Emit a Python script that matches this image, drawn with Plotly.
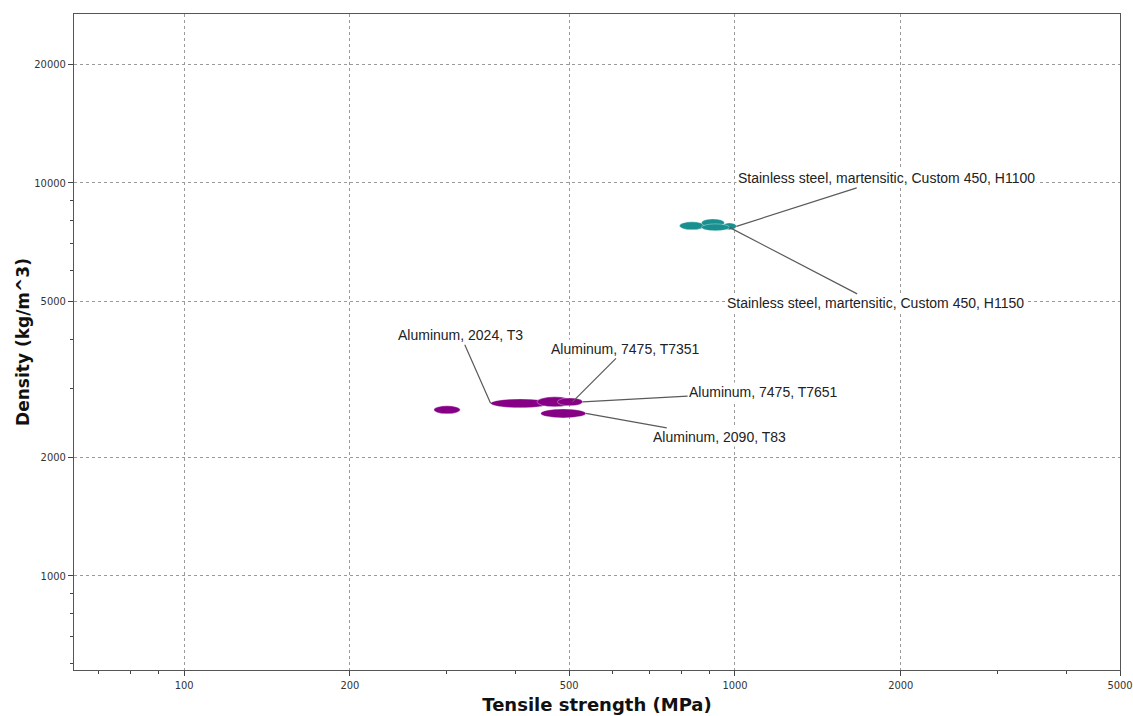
import math
import plotly.graph_objects as go

# ---- data ----
labels = ["", "Aluminum, 2024, T3", "Aluminum, 7475, T7351", "Aluminum, 7475, T7651",
          "Aluminum, 2090, T83", "", "", "Stainless steel, martensitic, Custom 450, H1100",
          "Stainless steel, martensitic, Custom 450, H1150"]
groups = ["Al", "Al", "Al", "Al", "Al", "Steel", "Steel", "Steel", "Steel"]
strength_min = [284, 360, 437, 476, 444, 793, 869, 949, 869]
strength_max = [317, 461, 507, 529, 536, 880, 957, 1006, 977]
density_min = [2584, 2677, 2692, 2708, 2523, 7595, 7727, 7595, 7550]
density_max = [2708, 2820, 2854, 2837, 2660, 7959, 8098, 7910, 7864]

x_major = [100, 200, 500, 1000, 2000, 5000]
x_minor = [70, 80, 90, 300, 400, 600, 700, 800, 900, 3000, 4000]
y_major = [1000, 2000, 5000, 10000, 20000]
y_minor = [600, 700, 800, 900, 3000, 4000, 6000, 7000, 8000, 9000]

# ---- styles ----
group_colors = {"Al": "#850085", "Steel": "#17908f"}
label_side = ["", "left", "right", "right", "right", "", "", "right", "right"]
label_offset = [None, (-30, -68), (53, -53), (181, -10), (134, 24), None, None, (150, -48), (146, 76)]

TICK_FONT = "Liberation Sans Narrow, DejaVu Sans Condensed, Liberation Sans, Arial"
TITLE_FONT = "Liberation Sans Narrow, DejaVu Sans, Arial"

fig = go.Figure()
# invisible trace to establish axes
fig.add_trace(go.Scatter(x=[math.sqrt(a * b) for a, b in zip(strength_min, strength_max)],
                         y=[math.sqrt(a * b) for a, b in zip(density_min, density_max)],
                         mode="markers", marker=dict(opacity=0), hoverinfo="skip", showlegend=False))

shapes = []
for i in range(len(labels)):
    shapes.append(dict(type="circle", xref="x", yref="y",
                       x0=strength_min[i], x1=strength_max[i],
                       y0=density_min[i], y1=density_max[i],
                       fillcolor=group_colors[groups[i]],
                       line=dict(color="rgba(255,255,255,0.35)", width=1)))

annotations = []
for i in range(len(labels)):
    if not labels[i]:
        continue
    yc = math.sqrt(density_min[i] * density_max[i])
    if label_side[i] == "left":
        xt = strength_min[i]
    elif label_side[i] == "right":
        xt = strength_max[i]
    else:
        xt = math.sqrt(strength_min[i] * strength_max[i])
    ax, ay = label_offset[i]
    annotations.append(dict(x=math.log10(xt), y=math.log10(yc), xref="x", yref="y",
                            text=labels[i], showarrow=True, arrowhead=0, arrowwidth=1.2,
                            arrowcolor="#5a5a5a", ax=ax, ay=ay, standoff=0,
                            bgcolor="white", borderpad=1,
                            font=dict(family="Liberation Sans, Arial", size=14, color="#222222")))

fig.update_layout(
    width=1133, height=716,
    margin=dict(l=74, r=13, t=14, b=46),
    paper_bgcolor="white", plot_bgcolor="white",
    shapes=shapes, annotations=annotations,
    showlegend=False,
)
common = dict(ticks="outside", ticklen=5, tickcolor="#444",
              tickfont=dict(family=TICK_FONT, size=11, color="#333"),
              showgrid=True, gridcolor="#9a9a9a", griddash="3px,3px", gridwidth=1,
              showline=True, linecolor="#555", linewidth=1, mirror=True,
              zeroline=False, automargin=False)
fig.update_xaxes(type="log", range=[math.log10(63.1), math.log10(5000)],
                 tickmode="array", tickvals=x_major, ticktext=[str(v) for v in x_major],
                 minor=dict(tickmode="array", tickvals=x_minor, ticks="outside", ticklen=3,
                            tickcolor="#444", showgrid=False),
                 title=dict(text="<b>Tensile strength (MPa)</b>", standoff=7,
                            font=dict(family=TITLE_FONT, size=18, color="#111")),
                 **common)
fig.update_yaxes(type="log", range=[math.log10(576), math.log10(26900)],
                 tickmode="array", tickvals=y_major, ticktext=[str(v) for v in y_major],
                 minor=dict(tickmode="array", tickvals=y_minor, ticks="outside", ticklen=3,
                            tickcolor="#444", showgrid=False),
                 title=dict(text="<b>Density (kg/m^3)</b>", standoff=0,
                            font=dict(family=TITLE_FONT, size=17, color="#111")),
                 **common)

fig.write_html("out.html", config={"displayModeBar": False},
               post_script="document.body.style.margin='0';document.body.style.overflow='hidden';")
